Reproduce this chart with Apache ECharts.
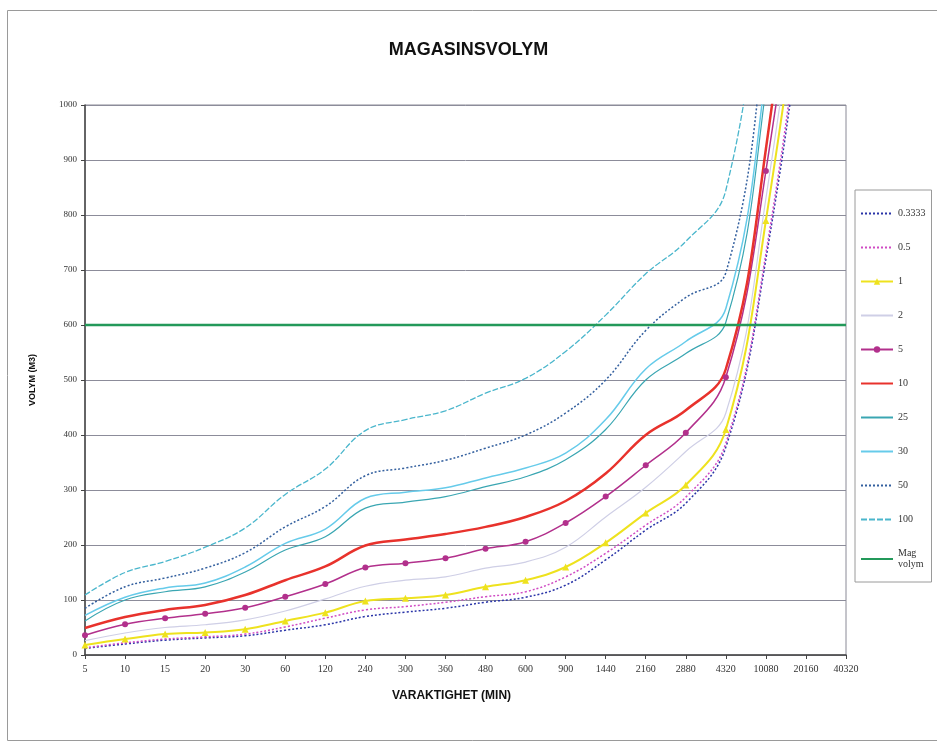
<!DOCTYPE html>
<html>
<head>
<meta charset="utf-8">
<title>MAGASINSVOLYM</title>
<script src="https://cdn.jsdelivr.net/npm/echarts@6/dist/echarts.min.js"></script>
<style>
  html, body { margin: 0; padding: 0; background: #ffffff; }
  #chart { width: 937px; height: 745px; }
</style>
</head>
<body>
<div id="chart"></div>
<script>
// Duration categories (minutes)
const durations = ['5', '10', '15', '20', '30', '60', '120', '240', '300', '360', '480',
  '600', '900', '1440', '2160', '2880', '4320', '10080', '20160', '40320'];

// Required storage volume (m3) per return period
const vol0333 = [12, 20, 27, 31, 35, 45, 55, 70, 78, 85, 96, 105, 127, 173, 227, 276, 378, 720, 1250, 2100];
const vol05   = [13, 22, 29, 33, 38, 51, 67, 82, 88, 96, 106, 115, 142, 185, 236, 287, 385, 730, 1280, 2200];
const vol1    = [18, 29, 38, 41, 47, 62, 77, 98, 103, 109, 124, 136, 160, 204, 258, 309, 410, 790, 1350, 2300];
const vol2    = [26, 40, 50, 55, 64, 80, 102, 125, 136, 142, 158, 169, 196, 251, 305, 370, 440, 830, 1400, 2400];
const vol5    = [36, 56, 67, 75, 86, 106, 129, 159, 167, 176, 193, 206, 240, 288, 345, 404, 505, 880, 1450, 2500];
const vol10   = [49, 69, 82, 91, 109, 136, 161, 199, 210, 220, 233, 251, 280, 330, 400, 445, 520, 920, 1560, 2700];
const vol25   = [62, 100, 115, 124, 151, 191, 215, 267, 278, 288, 306, 324, 355, 410, 500, 548, 605, 1030, 1700, 2900];
const vol30   = [72, 105, 122, 131, 160, 203, 229, 285, 296, 304, 322, 340, 367, 428, 520, 570, 630, 1060, 1750, 3000];
const vol50   = [85, 124, 140, 158, 186, 233, 270, 326, 340, 354, 376, 400, 440, 500, 590, 650, 695, 1150, 1900, 3200];
const vol100  = [109, 150, 170, 196, 231, 292, 338, 408, 428, 444, 476, 503, 552, 618, 693, 752, 845, 1350, 2100, 3500];

// Available storage volume (m3), constant over all durations
const magVolym = [600, 600, 600, 600, 600, 600, 600, 600, 600, 600, 600,
  600, 600, 600, 600, 600, 600, 600, 600, 600];

// Y axis range
const yMin = 0, yMax = 1000, yStep = 100;

const serifFont = '"Liberation Serif", "DejaVu Serif", serif';
const sansFont = '"Liberation Sans", Arial, sans-serif';

function curve(name, data, color, width, type, symbol, symbolSize) {
  return {
    name: name,
    type: 'line',
    data: data,
    smooth: 0.4,
    clip: true,
    symbol: symbol || 'none',
    symbolSize: symbolSize || 0,
    showSymbol: !!symbol,
    itemStyle: { color: color },
    lineStyle: { color: color, width: width, type: type || 'solid' },
    emphasis: { disabled: true },
    z: 3
  };
}

// Legend entries: only the series drawn with markers show a marker in the key
function key(name, marked) {
  return marked ? { name: name } : { name: name, itemStyle: { opacity: 0 } };
}

const chart = echarts.init(document.getElementById('chart'), null, { renderer: 'canvas' });

chart.setOption({
  backgroundColor: '#ffffff',
  animation: false,
  title: {
    text: 'MAGASINSVOLYM',
    left: 'center',
    top: 36,
    textStyle: { fontFamily: sansFont, fontSize: 18, fontWeight: 'bold', color: '#111' }
  },
  graphic: [{
    type: 'rect',
    shape: { x: 7.5, y: 10.5, width: 936, height: 730 },
    style: { fill: 'none', stroke: '#9a9a9a', lineWidth: 1 },
    silent: true
  }, {
    type: 'text',
    left: 392,
    top: 690,
    style: {
      text: 'VARAKTIGHET (MIN)',
      font: 'bold 12px ' + sansFont,
      fill: '#111'
    },
    silent: true
  }],
  legend: {
    orient: 'vertical',
    left: 855,
    top: 190,
    padding: [18, 6, 12, 5],
    itemWidth: 32,
    itemHeight: 8,
    itemGap: 23,
    borderColor: '#9a9a9a',
    borderWidth: 1,
    textStyle: { fontFamily: serifFont, fontSize: 10, color: '#333', lineHeight: 11 },
    data: [key('0.3333'), key('0.5'), key('1', true), key('2'), key('5', true), key('10'),
      key('25'), key('30'), key('50'), key('100'), key('Mag\nvolym')]
  },
  grid: {
    left: 85,
    right: 91,
    top: 105,
    bottom: 90,
    show: true,
    borderColor: '#8a8a96',
    borderWidth: 1,
    backgroundColor: 'transparent'
  },
  xAxis: {
    type: 'category',
    data: durations,
    boundaryGap: false,
    axisLine: { show: true, lineStyle: { color: '#444', width: 1.5 } },
    axisTick: { show: true, alignWithLabel: true, length: 4, lineStyle: { color: '#444' } },
    axisLabel: { fontFamily: serifFont, fontSize: 10, color: '#333', margin: 9, interval: 0 },
    splitLine: { show: false }
  },
  yAxis: {
    type: 'value',
    min: yMin,
    max: yMax,
    interval: yStep,
    name: 'VOLYM (M3)',
    nameLocation: 'middle',
    nameRotate: 90,
    nameGap: 48,
    nameTextStyle: { fontFamily: sansFont, fontSize: 9, fontWeight: 'bold', color: '#111' },
    axisLine: { show: true, lineStyle: { color: '#444', width: 1.5 } },
    axisTick: { show: true, length: 4, lineStyle: { color: '#444' } },
    axisLabel: {
      fontFamily: serifFont, fontSize: 9, color: '#333', margin: 8,
      formatter: function (v) { return String(v); }
    },
    splitLine: { show: true, lineStyle: { color: '#8c8c9a', width: 1 } }
  },
  series: [
    curve('0.3333', vol0333, '#2a35a8', 1.5, [2, 2]),
    curve('0.5', vol05, '#d04cc4', 1.5, [2, 2]),
    curve('1', vol1, '#eee21e', 2, 'solid', 'triangle', 7),
    curve('2', vol2, '#cfcfe6', 1.2, 'solid'),
    curve('5', vol5, '#b2308c', 1.5, 'solid', 'circle', 6),
    curve('10', vol10, '#e8322c', 2.5, 'solid'),
    curve('25', vol25, '#3aa6b2', 1.2, 'solid'),
    curve('30', vol30, '#66cbea', 1.5, 'solid'),
    curve('50', vol50, '#34609f', 1.5, [2, 2]),
    curve('100', vol100, '#4ab6cc', 1.3, [6, 2]),
    {
      name: 'Mag\nvolym',
      type: 'line',
      data: magVolym,
      symbol: 'none',
      showSymbol: false,
      itemStyle: { color: '#23995a' },
      lineStyle: { color: '#23995a', width: 2.5 },
      emphasis: { disabled: true },
      z: 4
    }
  ]
});
</script>
</body>
</html>
